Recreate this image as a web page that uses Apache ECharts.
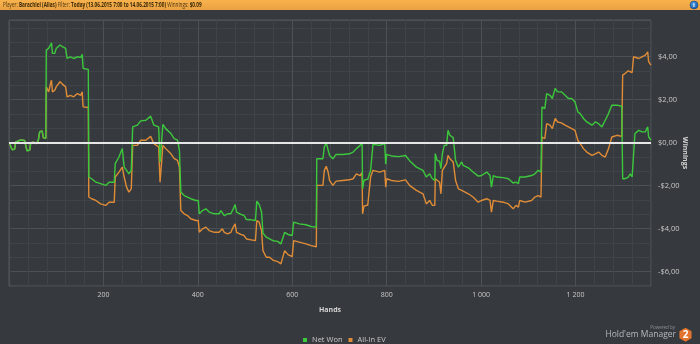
<!DOCTYPE html>
<html><head><meta charset="utf-8">
<script src="https://cdn.jsdelivr.net/npm/echarts@6/dist/echarts.min.js"></script>
<style>html,body{margin:0;padding:0;background:#363a3e;}#c{width:700px;height:344px;}</style>
</head><body><div id="c"></div>
<script>
// Hands (x values) shared by both series
const hands = [
  1,4,7,12,14,20,25,33,36,38,42,44,46,52,58,62,65,70,73,78,
  79,81,84,88,90,92,97,100,104,108,113,120,123,130,137,145,152,155,157,168,
  169,175,184,194,205,212,223,225,233,237,240,244,249,254,259,
  262,272,279,290,300,307,317,320,324,326,332,343,350,357,361,
  364,371,378,385,396,401,403,410,417,424,435,445,449,452,456,463,470,475,479,482,491,498,503,513,522,
  525,530,535,538,545,552,559,569,576,580,584,591,600,603,615,629,640,651,
  652,665,668,672,676,679,683,686,693,707,721,729,736,744,747,748,749,752,760,764,766,771,785,796,798,800,810,825,840,849,863,877,884,891,897,902,
  903,907,912,915,918,922,927,930,934,941,944,946,952,959,962,966,973,983,994,1001,1012,1019,1022,1026,1033,1047,1058,1068,1074,1079,1082,1093,1107,1114,1121,1127,
  1129,1135,1139,1146,1151,1157,1162,1170,1178,1185,1192,1199,1205,1210,1217,1224,1235,1242,1249,1256,1263,1270,1277,1288,1298,
  1300,1305,1312,1316,1320,1323,1326,1334,1341,1348,1353,1355,1358,1360
];
const netWon = [
  0.0,-0.2,-0.33,-0.3,0.02,0.08,0.12,0.1,0.05,-0.38,-0.44,-0.35,0.0,0.02,-0.05,0.1,0.5,0.55,0.22,0.2,
  4.30,4.30,4.38,4.54,4.64,4.15,4.15,4.38,4.3,4.54,4.46,4.38,3.91,3.99,3.91,3.99,3.96,4.1,3.45,3.4,
  -1.6,-1.68,-1.84,-1.91,-1.99,-1.84,-1.84,-0.98,-0.67,-0.44,-0.28,-1.14,-1.29,-1.45,-1.29,
  0.73,0.81,1.01,1.04,1.23,0.81,0.73,-0.9,-0.83,0.85,0.65,0.42,0.18,0.11,-0.36,
  -2.3,-2.46,-2.53,-2.61,-2.69,-2.69,-3.31,-3.16,-3.08,-3.23,-3.31,-3.31,-3.16,-3.16,-3.39,-3.31,-3.31,-3.08,-2.88,-3.23,-3.34,-3.39,-3.58,-3.59,-3.62,
  -2.72,-2.88,-3.23,-4.21,-4.4,-4.48,-4.56,-4.59,-4.71,-4.79,-4.17,-4.27,-4.32,-3.7,-3.78,-3.82,-3.9,-3.93,
  -0.75,-0.75,-0.2,-0.02,-0.08,-0.59,-0.52,-0.75,-0.55,-0.55,-0.52,-0.44,-0.28,-0.13,-0.13,0.0,-2.15,-1.75,-1.7,-1.75,-1.29,-0.08,-0.13,-0.05,-1.0,-0.55,-0.62,-0.65,-0.6,-0.85,-1.14,-1.29,-1.6,-1.45,-1.68,-1.76,
  -0.51,-0.83,-0.86,-1.21,-0.51,-0.13,-0.13,0.57,0.34,0.23,0.18,-0.83,-1.14,-0.9,-1.06,-1.14,-1.17,-1.37,-1.56,-1.53,-1.37,-1.53,-2.07,-1.53,-1.6,-1.63,-1.68,-1.88,-1.84,-1.91,-1.6,-1.6,-1.53,-1.45,-1.29,-1.37,
  1.66,1.58,2.28,2.2,2.05,2.52,2.36,2.36,2.2,2.05,2.05,1.89,1.43,1.35,1.12,0.96,0.81,0.96,0.88,0.73,1.04,1.35,1.74,1.74,1.69,
  -1.68,-1.68,-1.6,-1.45,-1.6,-1.6,0.42,0.57,0.5,0.5,0.73,0.26,0.18,0.11
];
const allInEV = [
  0.0,-0.2,-0.33,-0.3,0.02,0.08,0.12,0.1,0.05,-0.38,-0.44,-0.35,0.0,0.02,-0.05,0.1,0.5,0.55,0.22,0.2,
  2.59,2.59,2.36,2.75,2.9,2.36,2.44,2.59,2.52,2.83,2.72,2.59,2.13,2.2,2.13,2.28,2.2,2.36,1.66,1.63,
  -2.53,-2.61,-2.69,-2.85,-2.92,-2.77,-2.77,-1.6,-1.37,-1.29,-1.14,-1.6,-2.07,-2.3,-2.15,
  -0.13,-0.13,0.11,0.11,0.29,-0.05,-0.2,-1.84,-1.76,-0.13,-0.28,-0.52,-0.75,-0.83,-1.14,
  -3.16,-3.31,-3.39,-3.54,-3.62,-3.62,-4.17,-4.01,-3.93,-4.09,-4.17,-4.17,-4.09,-4.01,-4.17,-4.24,-4.17,-3.93,-3.78,-4.17,-4.27,-4.32,-4.48,-4.52,-4.56,
  -3.62,-3.7,-4.09,-5.02,-5.33,-5.33,-5.46,-5.53,-5.64,-5.72,-5.02,-5.21,-5.3,-4.56,-4.63,-4.71,-4.79,-4.84,
  -1.99,-1.99,-1.29,-1.1,-1.37,-1.76,-1.84,-1.99,-1.79,-1.76,-1.73,-1.68,-1.45,-1.53,-1.45,-1.4,-3.31,-2.95,-2.9,-2.95,-1.6,-1.29,-1.37,-1.29,-2.07,-1.68,-1.76,-1.8,-1.73,-2.0,-2.22,-2.38,-2.85,-2.69,-2.92,-2.92,
  -1.68,-1.76,-1.84,-2.38,-1.29,-1.29,-0.98,-0.59,-0.75,-0.9,-0.95,-1.76,-2.15,-2.22,-2.26,-2.3,-2.38,-2.53,-2.77,-2.69,-2.61,-2.69,-3.23,-2.69,-2.72,-2.77,-2.85,-3.08,-2.92,-3.0,-2.69,-2.77,-2.69,-2.53,-2.46,-2.53,
  0.26,0.18,0.88,0.81,0.65,1.12,0.96,0.92,0.81,0.73,0.65,0.57,0.11,-0.05,-0.28,-0.44,-0.59,-0.52,-0.44,-0.59,-0.67,-0.28,0.26,0.34,0.29,
  3.14,3.21,3.34,3.4,3.25,3.99,4.07,3.91,3.99,4.07,4.22,3.76,3.68,3.6
];
const seriesNames = ['Net Won', 'All-In EV'];
const headerParts = ['Player: ', 'Barachiel (Alias)', ' Filter: ', 'Today (13.06.2015 7:00 to 14.06.2015 7:00)', ' Winnings: ', '$0.09'];

const FONT = "'Open Sans', sans-serif";
const MINOR = '#3f4449', MAJOR = '#4c5156';

function fmtMoney(v) {
  const r = Math.round(v * 1000) / 1000;
  if (Math.abs(r / 2 - Math.round(r / 2)) > 0.01) return '';
  const a = Math.abs(Math.round(r));
  return (r < -0.001 ? '-' : '') + '$' + a.toFixed(2).replace('.', ',');
}
function fmtHands(v) {
  if (v <= 0 || v % 200 !== 0) return '';
  if (v >= 1000) return Math.floor(v / 1000) + ' ' + String(v % 1000).padStart(3, '0');
  return String(v);
}

const chart = echarts.init(document.getElementById('c'), null, {renderer: 'canvas'});
const hexPts = [];
for (let i = 0; i < 6; i++) { const a = Math.PI / 6 + i * Math.PI / 3; hexPts.push([685.5 + 7 * Math.cos(a), 334.7 + 7 * Math.sin(a)]); }

const headerText = '{a|' + headerParts[0] + '}{b|' + headerParts[1] + '}{a|' + headerParts[2] + '}{b|' + headerParts[3] + '}{a|' + headerParts[4] + '}{b|' + headerParts[5] + '}';

chart.setOption({
  backgroundColor: '#363a3e',
  animation: false,
  textStyle: {fontFamily: FONT},
  legend: {
    data: seriesNames, left: 298, top: 331, icon: 'rect', itemWidth: 4, itemHeight: 4, itemGap: 6,
    textStyle: {color: '#c8c8c8', fontSize: 7.5, fontFamily: FONT}
  },
  grid: {left: 9, right: 49, top: 20, bottom: 58, show: true, borderColor: '#55595d', borderWidth: 1, backgroundColor: 'transparent', outerBoundsMode: 'none', containLabel: false},
  xAxis: {
    type: 'value', min: 0, max: 1360, interval: 40,
    name: 'Hands', nameLocation: 'middle', nameGap: 20, nameMoveOverlap: false,
    nameTextStyle: {color: '#d4d4d4', fontSize: 7, fontWeight: 'bold', fontFamily: FONT},
    axisLine: {show: false},
    axisTick: {show: true, length: 3, lineStyle: {color: '#474c51'}},
    axisLabel: {color: '#c8c8c8', fontSize: 7, margin: 5, formatter: fmtHands, fontFamily: FONT},
    splitLine: {show: true, lineStyle: {color: [MAJOR, MINOR, MINOR, MINOR, MINOR], width: 1}}
  },
  yAxis: {
    type: 'value', position: 'right', min: -20 / 3, max: 5.7, interval: 2 / 3,
    name: 'Winnings', nameLocation: 'middle', nameRotate: -90, nameGap: 30, nameMoveOverlap: false,
    nameTextStyle: {color: '#d4d4d4', fontSize: 7, fontWeight: 'bold', fontFamily: FONT},
    axisLine: {show: false},
    axisTick: {show: true, length: 3, lineStyle: {color: '#474c51'}},
    axisLabel: {color: '#c8c8c8', fontSize: 7.5, margin: 7, formatter: fmtMoney, fontFamily: FONT},
    splitLine: {show: true, lineStyle: {color: [MINOR, MAJOR, MINOR], width: 1}}
  },
  series: [
    {
      name: seriesNames[0], type: 'line', z: 3, showSymbol: false, symbol: 'none',
      data: hands.map((h, i) => [h, netWon[i]]),
      lineStyle: {color: '#3cc83c', width: 1.4}, itemStyle: {color: '#3cc83c'},
      markLine: {
        silent: true, symbol: ['none', 'none'], label: {show: false}, z: 10,
        lineStyle: {color: '#e6e6e6', width: 2, type: 'solid'},
        data: [{yAxis: 0}]
      }
    },
    {
      name: seriesNames[1], type: 'line', z: 2, showSymbol: false, symbol: 'none',
      data: hands.map((h, i) => [h, allInEV[i]]),
      lineStyle: {color: '#e08c37', width: 1.4}, itemStyle: {color: '#e08c37'}
    }
  ],
  graphic: [
    {type: 'rect', shape: {x: 0, y: 0, width: 700, height: 10}, z: 10,
     style: {fill: new echarts.graphic.LinearGradient(0, 0, 0, 1, [{offset: 0, color: '#f7b24d'}, {offset: 1, color: '#eba242'}])}},
    {type: 'text', x: 3, y: 5, scaleX: 0.64, z: 12,
     style: {text: headerText, verticalAlign: 'middle', align: 'left',
       rich: {
         a: {fontSize: 7.3, fill: '#4a3410', fontFamily: FONT},
         b: {fontSize: 7.3, fill: '#3a2806', fontWeight: 'bold', fontFamily: FONT}
       }}},
    {type: 'circle', shape: {cx: 694, cy: 5, r: 4}, z: 11,
     style: {fill: new echarts.graphic.RadialGradient(0.4, 0.35, 0.7, [{offset: 0, color: '#4c9be6'}, {offset: 1, color: '#1756a3'}]), stroke: '#0f3f7d', lineWidth: 0.5}},
    {type: 'text', x: 694, y: 5, z: 12, style: {text: 'i', fill: '#ffffff', font: 'bold 6px ' + FONT, align: 'center', verticalAlign: 'middle'}},
    {type: 'text', x: 675, y: 327.5, z: 12, style: {text: 'Powered by', fill: '#8f9397', font: '4.5px ' + FONT, align: 'right', verticalAlign: 'middle'}},
    {type: 'text', x: 676, y: 334.5, z: 12, style: {text: "Hold'em Manager", fill: '#b7babd', font: '8.5px ' + FONT, align: 'right', verticalAlign: 'middle'}},
    {type: 'polygon', shape: {points: hexPts}, z: 12, style: {fill: '#e2742e'}},
    {type: 'text', x: 685.5, y: 335, z: 13, style: {text: '2', fill: '#ffffff', font: 'bold 10px ' + FONT, align: 'center', verticalAlign: 'middle'}}
  ]
});
</script>
</body></html>
